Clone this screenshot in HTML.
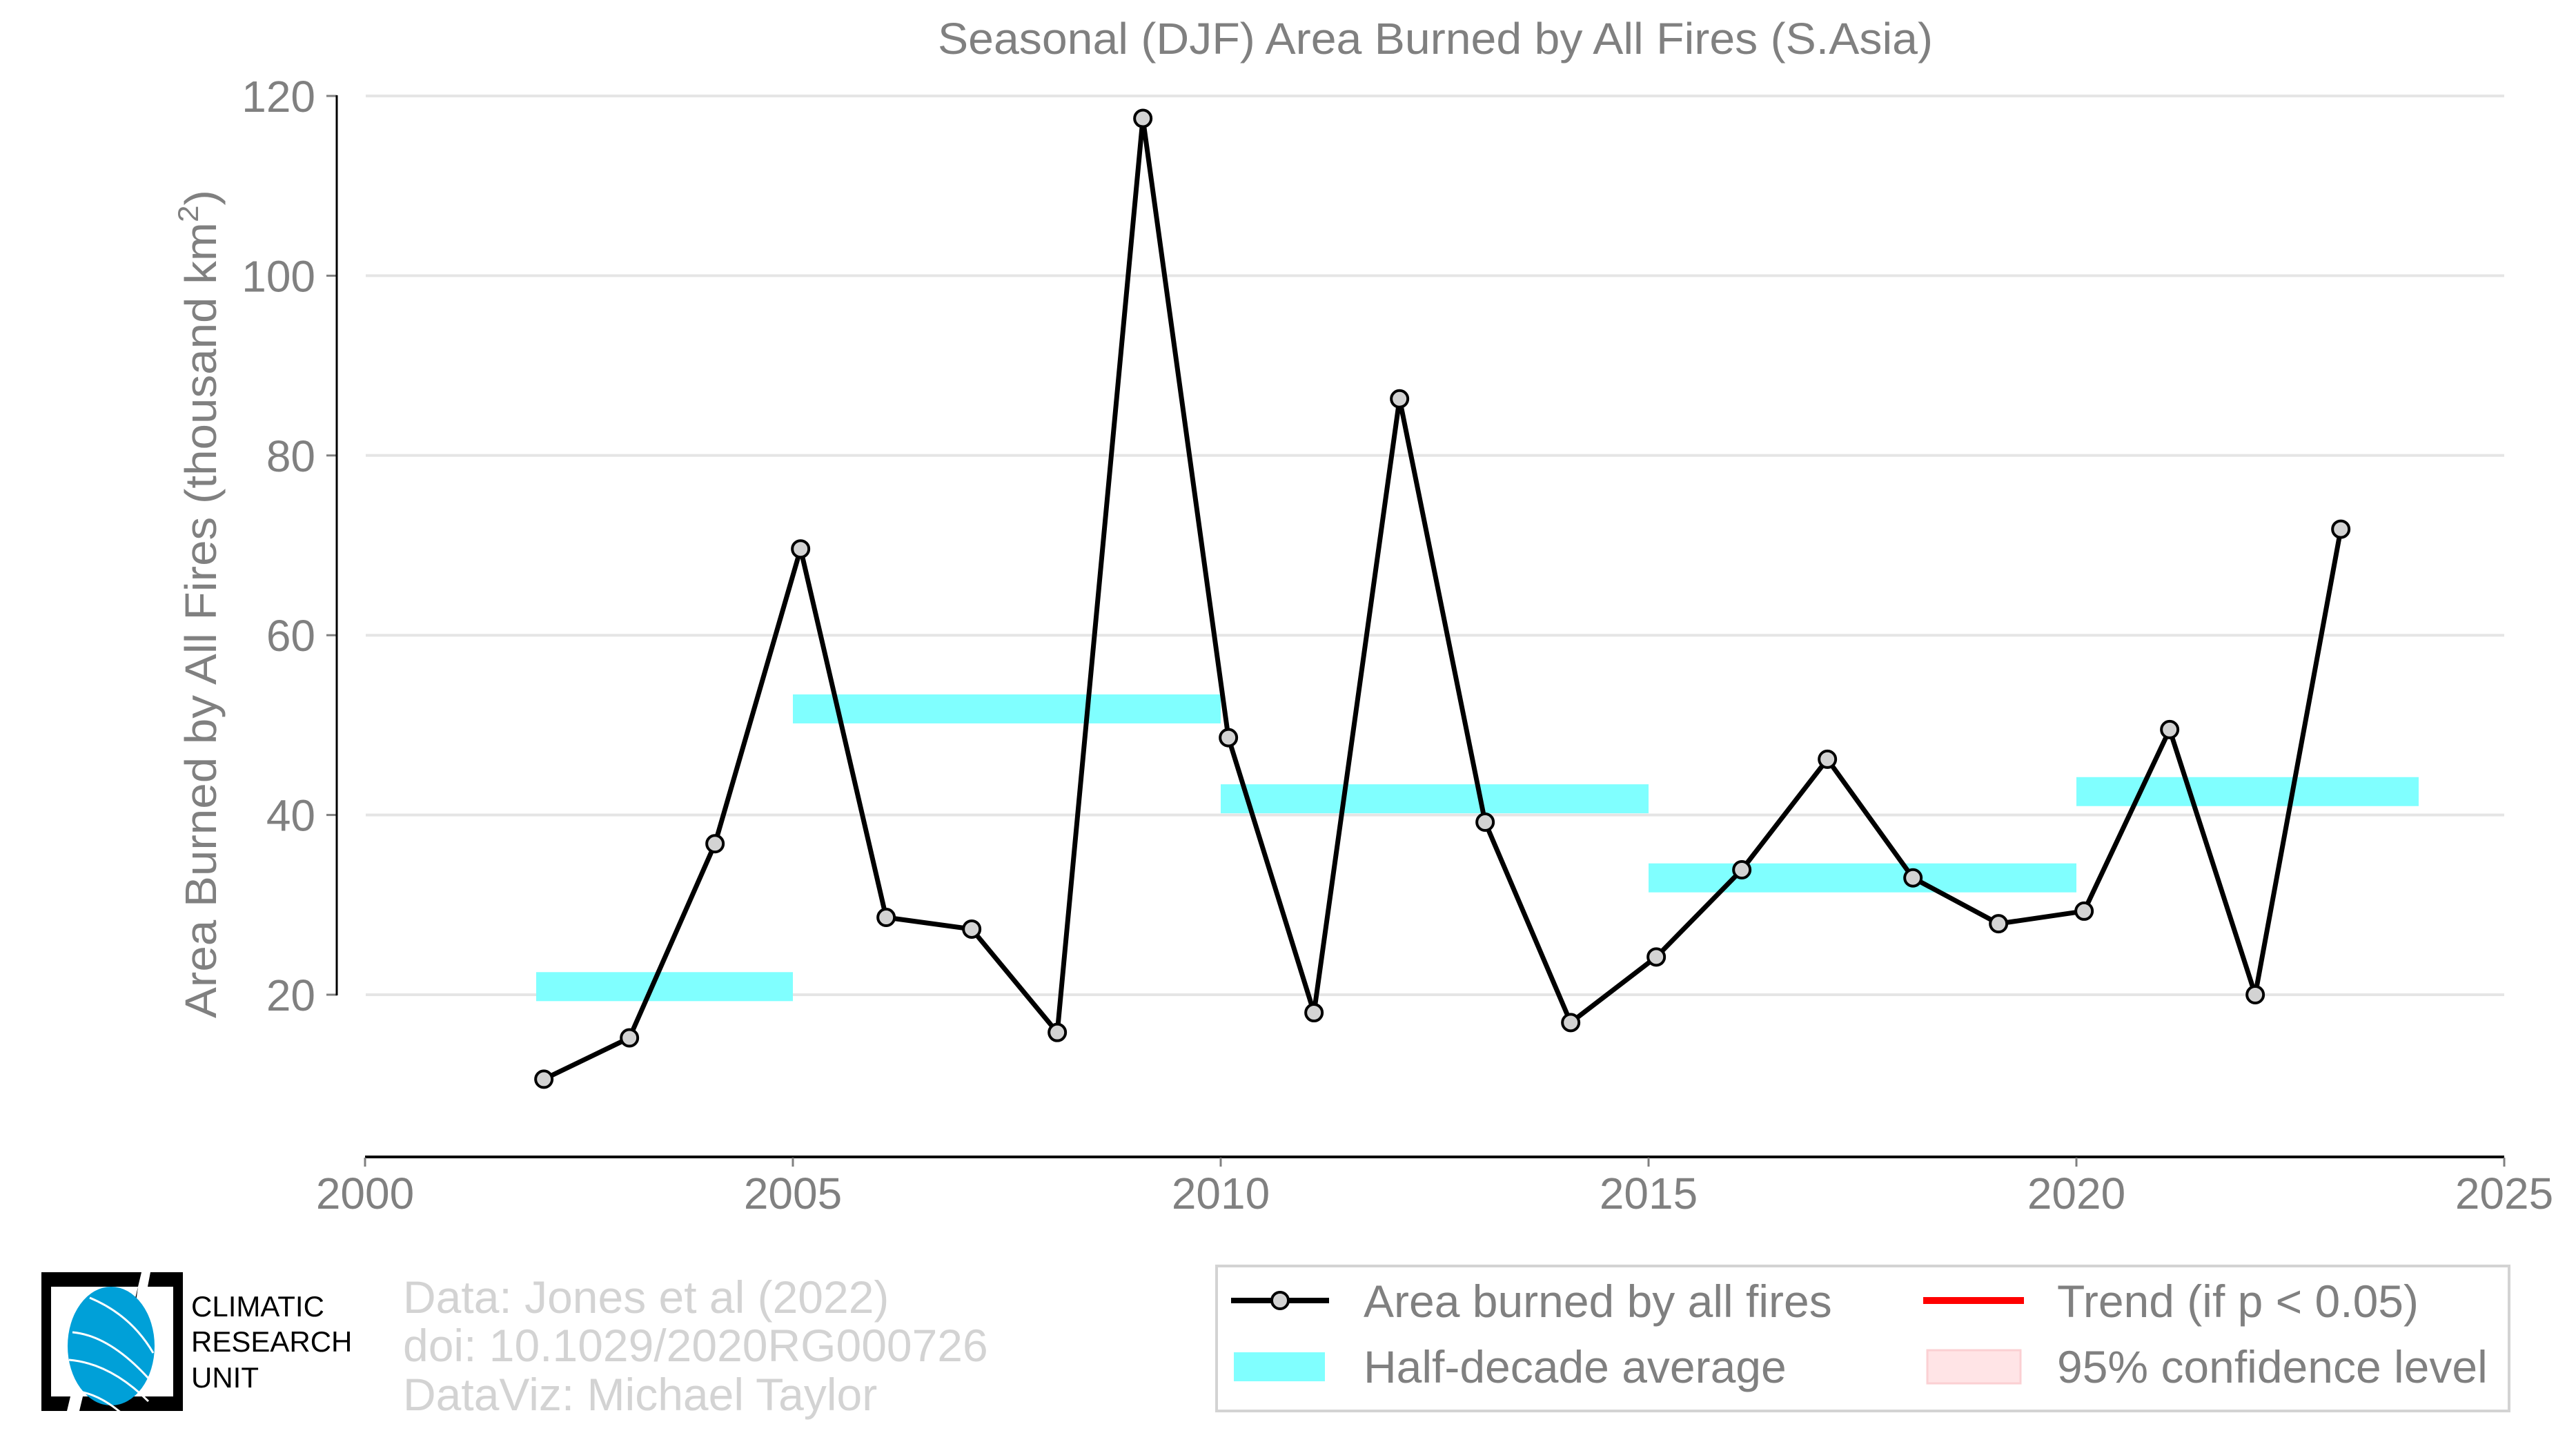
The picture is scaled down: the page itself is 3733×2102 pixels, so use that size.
<!DOCTYPE html>
<html><head><meta charset="utf-8"><style>
html,body{margin:0;padding:0;background:#fff;}
svg{display:block;font-family:"Liberation Sans",Arial,sans-serif;}
</style></head><body>
<svg id="chart" width="3733" height="2102" viewBox="0 0 3733 2102" xmlns="http://www.w3.org/2000/svg">
<rect width="3733" height="2102" fill="#fff"/>
<text x="2080" y="78" font-size="64" fill="#808080" text-anchor="middle" textLength="1442" lengthAdjust="spacingAndGlyphs">Seasonal (DJF) Area Burned by All Fires (S.Asia)</text>
<g id="grid"></g>
<g id="yaxis"></g>
<g id="xaxis"></g>
<text transform="translate(313,875) rotate(-90)" font-size="64" fill="#808080" text-anchor="middle" textLength="1200" lengthAdjust="spacingAndGlyphs">Area Burned by All Fires (thousand km<tspan font-size="42" dy="-26">2</tspan><tspan dy="26">)</tspan></text>
<g id="bars"></g>
<g id="series"></g>

<!-- logo -->
<g>
<path d="M60 1843 H205 L200 1864 H74 V2023 H102 L97 2044 H60 Z" fill="#000"/>
<path d="M218 1843 H265 V2044 H115 L120 2023 H251 V1864 H214 Z" fill="#000"/>
<path d="M200 1864 L183 1935 L190 1937 Z" fill="#000"/>
<ellipse cx="161" cy="1950" rx="63" ry="86" fill="#00a0d8"/>
<path d="M105 1930 Q160 1935 218 2000 M100 1970 Q160 1975 215 2030 M130 1880 Q190 1905 222 1960 M110 2015 Q150 2020 190 2060" stroke="#fff" stroke-width="3" fill="none"/>
<text x="277" y="1907" font-size="42" fill="#000">CLIMATIC</text>
<text x="277" y="1958" font-size="42" fill="#000">RESEARCH</text>
<text x="277" y="2010" font-size="42" fill="#000">UNIT</text>
</g>
<g fill="#d3d3d3" font-size="66">
<text x="584" y="1902">Data: Jones et al (2022)</text>
<text x="584" y="1972">doi: 10.1029/2020RG000726</text>
<text x="584" y="2043">DataViz: Michael Taylor</text>
</g>

<!-- legend -->
<g>
<rect x="1763" y="1834" width="1873" height="210" fill="#fff" stroke="#d3d3d3" stroke-width="4"/>
<g>
<line x1="1784" y1="1884" x2="1926" y2="1884" stroke="#000" stroke-width="8"/>
<circle cx="1855" cy="1884" r="12" fill="#d3d3d3" stroke="#000" stroke-width="4"/>
<text x="1976" y="1908" font-size="66" fill="#808080">Area burned by all fires</text>
</g>
<g>
<line x1="2787" y1="1884" x2="2933" y2="1884" stroke="#ff0000" stroke-width="10"/>
<text x="2981" y="1908" font-size="66" fill="#808080">Trend (if p &lt; 0.05)</text>
</g>
<g>
<rect x="1788" y="1959" width="132" height="42" fill="#80ffff"/>
<text x="1976" y="2003" font-size="66" fill="#808080">Half-decade average</text>
</g>
<g>
<rect x="2793" y="1956" width="135" height="48" fill="#ffe4e6" stroke="#fbd0d3" stroke-width="3"/>
<text x="2981" y="2003" font-size="66" fill="#808080">95% confidence level</text>
</g>
</g>
</svg>
<script>
const years = [2002,2003,2004,2005,2006,2007,2008,2009,2010,2011,2012,2013,2014,2015,2016,2017,2018,2019,2020,2021,2022,2023];
const areaValues = [10.6,15.2,36.8,69.6,28.6,27.3,15.8,117.5,48.6,18.0,86.3,39.2,16.9,24.2,33.9,46.2,33.0,27.9,29.3,49.5,20.0,71.8];
const halfStarts = [2002,2005,2010,2015,2020];
const halfEnds = [2005,2010,2015,2020,2024];
const halfValues = [20.9,51.8,41.8,33.0,42.6];
const yTicks = [20,40,60,80,100,120];
const xTicks = [2000,2005,2010,2015,2020,2025];

const NS = "http://www.w3.org/2000/svg";
function X(v){ return 529 + (v - 2000) * 124; }
function Y(v){ return 1441 - (v - 20) * 13.02; }
function mk(tag, attrs, parent){
  const e = document.createElementNS(NS, tag);
  for (const k in attrs) e.setAttribute(k, attrs[k]);
  parent.appendChild(e); return e;
}
const grid = document.getElementById('grid');
const yax = document.getElementById('yaxis');
const xax = document.getElementById('xaxis');
const bars = document.getElementById('bars');
const series = document.getElementById('series');

yTicks.forEach(t => {
  const g = mk('line', {x1:530, x2:3629, y1:Y(t), y2:Y(t), stroke:'#e5e5e5', 'stroke-width':4}, grid);
  
  
  const tk = mk('line', {x1:473, x2:488, y1:Y(t), y2:Y(t), stroke:'#808080', 'stroke-width':3}, yax);
  
  
  const lb = mk('text', {x:457, y:Y(t)+23, 'font-size':64, fill:'#808080', 'text-anchor':'end'}, yax);
  lb.textContent = t;
  
  
});
const ysp = mk('line', {x1:488, x2:488, y1:Y(120)-1, y2:Y(20)+1, stroke:'#000', 'stroke-width':3}, yax);



const xsp = mk('line', {x1:X(2000), x2:X(2025), y1:1676, y2:1676, stroke:'#000', 'stroke-width':4}, xax);


xTicks.forEach(t => {
  const tk = mk('line', {x1:X(t), x2:X(t), y1:1677, y2:1690, stroke:'#808080', 'stroke-width':3}, xax);
  
  
  const lb = mk('text', {x:X(t), y:1751, 'font-size':64, fill:'#808080', 'text-anchor':'middle'}, xax);
  lb.textContent = t;
  
  
});

halfValues.forEach((v, i) => {
  const r = mk('rect', {x:X(halfStarts[i]), width:X(halfEnds[i]) - X(halfStarts[i]), y:Y(v)-21, height:42, fill:'#80ffff'}, bars);
  
  
});

const pts = years.map((y, i) => X(y + 0.09) + ',' + Y(areaValues[i])).join(' ');
const pl = mk('polyline', {points:pts, fill:'none', stroke:'#000', 'stroke-width':7, 'stroke-linejoin':'round'}, series);


years.forEach((y, i) => {
  const c = mk('circle', {cx:X(y + 0.09), cy:Y(areaValues[i]), r:12, fill:'#d3d3d3', stroke:'#000', 'stroke-width':4}, series);
  
  
});
</script>
</body></html>
